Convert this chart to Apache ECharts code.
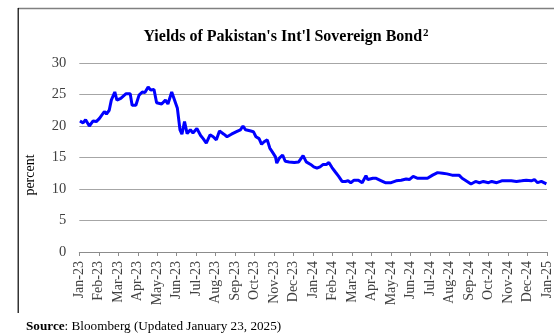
<!DOCTYPE html>
<html>
<head>
<meta charset="utf-8">
<script src="https://cdn.jsdelivr.net/npm/echarts@6/dist/echarts.min.js"></script>
<style>
  html, body { margin: 0; padding: 0; background: #fff; }
  #chart { width: 554px; height: 334px; }
</style>
</head>
<body>
<div id="chart"></div>
<script>
// Month tick labels along the date axis (one per month start)
const monthLabels = ['Jan-23','Feb-23','Mar-23','Apr-23','May-23','Jun-23','Jul-23','Aug-23','Sep-23','Oct-23','Nov-23','Dec-23',
  'Jan-24','Feb-24','Mar-24','Apr-24','May-24','Jun-24','Jul-24','Aug-24','Sep-24','Oct-24','Nov-24','Dec-24','Jan-25'];

// Observation dates
const dates = ['2023-01-02','2023-01-07','2023-01-11','2023-01-17','2023-01-23','2023-01-28','2023-02-02','2023-02-04','2023-02-09','2023-02-12',
  '2023-02-16','2023-02-19','2023-02-24','2023-02-27','2023-03-05','2023-03-13','2023-03-20','2023-03-23','2023-03-29','2023-04-03',
  '2023-04-08','2023-04-12','2023-04-17','2023-04-21','2023-04-26','2023-04-30','2023-05-03','2023-05-08','2023-05-14','2023-05-18',
  '2023-05-24','2023-05-27','2023-06-02','2023-06-06','2023-06-09','2023-06-13','2023-06-17','2023-06-22','2023-06-26','2023-07-02',
  '2023-07-08','2023-07-12','2023-07-17','2023-07-23','2023-07-28','2023-08-02','2023-08-07','2023-08-14','2023-08-19','2023-08-26',
  '2023-09-03','2023-09-09','2023-09-13','2023-09-17','2023-09-20','2023-09-25','2023-09-29','2023-10-03','2023-10-08','2023-10-12',
  '2023-10-16','2023-10-21','2023-10-25','2023-10-29','2023-11-03','2023-11-05','2023-11-09','2023-11-14','2023-11-18','2023-11-24',
  '2023-12-02','2023-12-09','2023-12-16','2023-12-21','2023-12-28','2024-01-02','2024-01-07','2024-01-12','2024-01-17','2024-01-22',
  '2024-01-26','2024-01-31','2024-02-05','2024-02-10','2024-02-15','2024-02-20','2024-02-24','2024-02-28','2024-03-04','2024-03-11',
  '2024-03-17','2024-03-23','2024-03-26','2024-04-03','2024-04-08','2024-04-16','2024-04-22','2024-05-01','2024-05-09','2024-05-17',
  '2024-05-25','2024-05-30','2024-06-05','2024-06-12','2024-06-19','2024-06-27','2024-07-05','2024-07-13','2024-07-21','2024-07-28',
  '2024-08-05','2024-08-16','2024-08-21','2024-08-29','2024-09-04','2024-09-11','2024-09-17','2024-09-23','2024-10-01','2024-10-06',
  '2024-10-14','2024-10-22','2024-10-30','2024-11-06','2024-11-14','2024-11-22','2024-11-29','2024-12-07','2024-12-12','2024-12-17',
  '2024-12-23','2024-12-31'];

// Bond yields, percent
const yields = [20.8,20.5,21.0,20.0,20.8,20.7,21.2,21.0,22.3,21.9,
  22.5,24.1,25.4,24.1,24.4,25.1,25.1,23.3,23.3,24.9,
  25.4,25.3,26.2,25.7,25.8,23.7,24.0,23.5,24.1,23.5,
  25.4,25.2,22.8,19.4,18.7,20.7,18.8,19.4,18.9,19.6,
  18.5,18.0,17.3,18.6,18.3,17.8,19.2,18.7,18.3,18.7,
  19.1,19.4,20.0,19.4,19.5,19.2,19.1,18.3,18.0,17.1,
  17.5,17.8,16.5,15.9,15.1,14.1,14.9,15.4,14.4,14.3,
  14.2,14.3,15.3,14.3,13.9,13.5,13.3,13.5,13.9,13.9,
  14.2,13.4,12.7,12.0,11.2,11.2,11.3,11.0,11.4,11.4,
  11.0,12.1,11.5,11.7,11.7,11.3,11.0,11.0,11.3,11.4,
  11.6,11.5,12.0,11.7,11.7,11.7,12.2,12.6,12.5,12.4,
  12.2,12.2,11.7,11.2,10.8,11.2,11.0,11.2,11.0,11.2,
  11.0,11.3,11.3,11.3,11.2,11.3,11.4,11.3,11.5,11.0,
  11.2,10.8];

const yTicks = [0, 5, 10, 15, 20, 25, 30];

// Position of a date on the month axis: 0 = 1 Jan 2023, 1 = 1 Feb 2023, ...
function monthPos(s) {
  const [y, m, d] = s.split('-').map(Number);
  const days = new Date(y, m, 0).getDate();
  return (y - 2023) * 12 + (m - 1) + (d - 1) / days;
}

const seriesData = dates.map((d, i) => [monthPos(d), yields[i]]);

const SERIF = '"Liberation Serif", "DejaVu Serif", serif';
const chart = echarts.init(document.getElementById('chart'), null, { renderer: 'canvas' });

chart.setOption({
  backgroundColor: '#ffffff',
  animation: false,
  grid: { left: 79.3, right: 1.7, top: 63, bottom: 82, containLabel: false },
  title: {
    text: "Yields of Pakistan's Int'l Sovereign Bond{s|2}",
    left: 281, top: 23, textAlign: 'center',
    textStyle: {
      fontFamily: SERIF, fontWeight: 'bold', fontSize: 16, color: '#000',
      rich: {
        s: { fontFamily: SERIF, fontWeight: 'bold', fontSize: 11, color: '#000', verticalAlign: 'bottom', padding: [0, 0, 7, 1] }
      }
    }
  },
  xAxis: {
    type: 'value',
    min: 0, max: monthLabels.length - 1, interval: 1,
    axisLine: { show: true, lineStyle: { color: '#8c8c8c', width: 1 } },
    axisTick: { show: true, length: 4, lineStyle: { color: '#8c8c8c' } },
    splitLine: { show: false },
    axisLabel: {
      rotate: 90, margin: 9, interval: 0,
      fontFamily: SERIF, fontSize: 14, color: '#404040',
      showMaxLabel: true, showMinLabel: true,
      formatter: v => monthLabels[Math.round(v)] || ''
    }
  },
  yAxis: {
    type: 'value',
    min: yTicks[0], max: yTicks[yTicks.length - 1], interval: 5,
    axisLine: { show: false },
    axisTick: { show: false },
    splitLine: { show: true, lineStyle: { color: '#a6a6a6', width: 1 } },
    axisLabel: { margin: 13, fontFamily: SERIF, fontSize: 14.5, color: '#404040' }
  },
  series: [{
    type: 'line',
    data: seriesData,
    showSymbol: false,
    smooth: false,
    lineStyle: { color: '#0000ff', width: 3 },
    itemStyle: { color: '#0000ff' }
  }],
  graphic: [
    // frame edges
    { type: 'line', shape: { x1: 18, y1: 8.5, x2: 554, y2: 8.5 }, style: { stroke: '#808080', lineWidth: 1.5 } },
    { type: 'line', shape: { x1: 18.2, y1: 8, x2: 18.2, y2: 313 }, style: { stroke: '#000000', lineWidth: 1.2 } },
    // y-axis title
    {
      type: 'text', x: 30, y: 175, rotation: Math.PI / 2,
      style: { text: 'percent', fontFamily: SERIF, fontSize: 14, fill: '#000', align: 'center', verticalAlign: 'middle' }
    },
    // source note
    {
      type: 'text', left: 26, top: 320,
      style: {
        text: '{b|Source}: Bloomberg (Updated January 23, 2025)',
        fontFamily: SERIF, fontSize: 13.2, fill: '#000',
        rich: { b: { fontFamily: SERIF, fontSize: 13.2, fontWeight: 'bold', fill: '#000' } }
      }
    }
  ]
});
</script>
</body>
</html>
